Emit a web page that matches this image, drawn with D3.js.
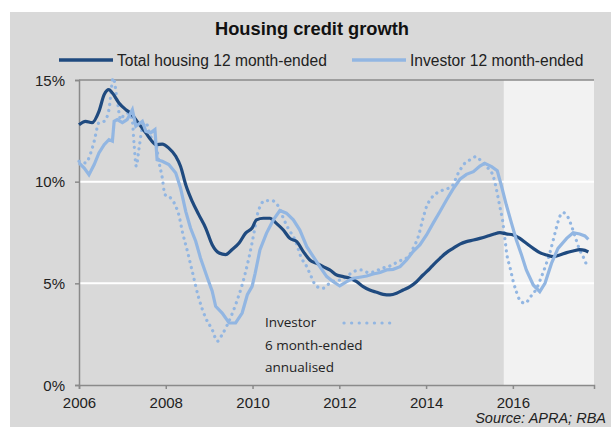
<!DOCTYPE html>
<html>
<head>
<meta charset="utf-8">
<script src="https://cdn.jsdelivr.net/npm/d3@7"></script>
<style>
  body { margin: 0; background: #fff; }
  svg { display: block; }
</style>
</head>
<body>
<div id="chart"></div>
<script>
// ticks
const yTicks = [0, 5, 10, 15];
const xTicks = [2006, 2008, 2010, 2012, 2014, 2016];

// Total housing 12 month-ended [year, %]
const totalHousing = [
  [2006.0, 12.8], [2006.15, 12.97], [2006.3, 12.9], [2006.46, 13.46], [2006.58, 14.28],
  [2006.69, 14.53], [2006.77, 14.36], [2006.92, 13.87], [2007.08, 13.54], [2007.19, 13.37],
  [2007.31, 13.05], [2007.42, 12.73], [2007.54, 12.4], [2007.65, 12.07], [2007.77, 11.82],
  [2007.92, 11.85], [2008.07, 11.65], [2008.23, 11.25], [2008.34, 10.76], [2008.46, 9.85],
  [2008.61, 9.03], [2008.76, 8.38], [2008.92, 7.72], [2009.07, 6.9], [2009.23, 6.49],
  [2009.38, 6.41], [2009.53, 6.66], [2009.69, 6.98], [2009.84, 7.47], [2009.99, 7.72],
  [2010.09, 8.12], [2010.25, 8.2], [2010.4, 8.2], [2010.55, 7.95], [2010.71, 7.62],
  [2010.86, 7.21], [2011.02, 7.05], [2011.17, 6.56], [2011.32, 6.15], [2011.48, 5.98],
  [2011.63, 5.82], [2011.78, 5.66], [2011.94, 5.41], [2012.09, 5.33], [2012.24, 5.25],
  [2012.4, 5.08], [2012.55, 4.84], [2012.7, 4.67], [2012.86, 4.56], [2013.01, 4.46],
  [2013.17, 4.43], [2013.32, 4.51], [2013.47, 4.67], [2013.63, 4.84], [2013.78, 5.08],
  [2013.93, 5.41], [2014.09, 5.74], [2014.16, 5.9], [2014.32, 6.23], [2014.47, 6.51],
  [2014.62, 6.72], [2014.78, 6.93], [2014.93, 7.05], [2015.09, 7.13], [2015.24, 7.21],
  [2015.39, 7.3], [2015.55, 7.41], [2015.7, 7.49], [2015.85, 7.43], [2016.01, 7.38],
  [2016.16, 7.21], [2016.31, 6.97], [2016.47, 6.72], [2016.62, 6.51], [2016.78, 6.39],
  [2016.93, 6.31], [2017.08, 6.39], [2017.24, 6.51], [2017.39, 6.59], [2017.54, 6.66],
  [2017.66, 6.62], [2017.74, 6.54]
];

// Investor 12 month-ended
const investor12 = [
  [2006.0, 10.92], [2006.12, 10.67], [2006.23, 10.34], [2006.35, 10.84], [2006.46, 11.41],
  [2006.58, 11.82], [2006.69, 12.07], [2006.77, 11.99], [2006.81, 12.97], [2006.88, 13.05],
  [2007.0, 12.9], [2007.11, 13.05], [2007.23, 13.54], [2007.31, 12.73], [2007.46, 12.97],
  [2007.54, 12.48], [2007.65, 12.4], [2007.75, 12.56], [2007.8, 11.08], [2007.92, 11.0],
  [2008.07, 10.84], [2008.23, 10.43], [2008.34, 9.69], [2008.46, 8.54], [2008.57, 7.72],
  [2008.69, 7.07], [2008.8, 6.25], [2008.96, 5.26], [2009.07, 4.61], [2009.15, 3.87],
  [2009.3, 3.54], [2009.46, 3.05], [2009.61, 3.05], [2009.76, 3.54], [2009.88, 4.44],
  [2009.99, 4.85], [2010.06, 5.49], [2010.17, 6.64], [2010.32, 7.46], [2010.48, 8.12],
  [2010.63, 8.58], [2010.78, 8.45], [2010.94, 8.12], [2011.09, 7.62], [2011.25, 6.8],
  [2011.4, 6.31], [2011.55, 5.82], [2011.71, 5.33], [2011.86, 5.08], [2012.01, 4.87],
  [2012.17, 5.08], [2012.32, 5.25], [2012.47, 5.3], [2012.63, 5.36], [2012.78, 5.46],
  [2012.94, 5.53], [2013.09, 5.66], [2013.24, 5.69], [2013.4, 5.82], [2013.55, 6.15],
  [2013.7, 6.56], [2013.86, 6.9], [2014.01, 7.38], [2014.16, 7.95], [2014.32, 8.53],
  [2014.47, 9.1], [2014.62, 9.63], [2014.78, 10.12], [2014.93, 10.36], [2015.09, 10.49],
  [2015.24, 10.77], [2015.35, 10.9], [2015.51, 10.74], [2015.64, 10.54], [2015.74, 9.76],
  [2015.85, 8.85], [2015.97, 7.95], [2016.08, 7.13], [2016.2, 6.39], [2016.31, 5.66],
  [2016.47, 4.92], [2016.62, 4.59], [2016.74, 5.0], [2016.89, 5.98], [2017.04, 6.72],
  [2017.24, 7.21], [2017.39, 7.49], [2017.54, 7.43], [2017.66, 7.33], [2017.74, 7.16]
];

// Investor 6 month-ended annualised
const investor6 = [
  [2006.0, 11.0], [2006.15, 10.92], [2006.27, 11.41], [2006.35, 11.99], [2006.46, 12.9],
  [2006.58, 12.97], [2006.69, 13.54], [2006.79, 15.1], [2006.88, 14.0], [2006.96, 13.05],
  [2007.04, 13.3], [2007.15, 13.37], [2007.23, 12.97], [2007.27, 11.82], [2007.32, 10.76],
  [2007.38, 11.58], [2007.46, 12.64], [2007.54, 12.9], [2007.65, 12.23], [2007.77, 11.9],
  [2007.84, 11.0], [2007.92, 10.18], [2007.98, 9.36], [2008.07, 9.28], [2008.23, 8.79],
  [2008.3, 8.38], [2008.38, 7.56], [2008.5, 6.57], [2008.61, 5.59], [2008.76, 4.28],
  [2008.92, 3.3], [2009.07, 2.72], [2009.19, 2.15], [2009.3, 2.48], [2009.42, 2.97],
  [2009.61, 3.95], [2009.76, 4.93], [2009.88, 5.92], [2009.99, 7.0], [2010.06, 7.79],
  [2010.13, 8.53], [2010.29, 9.07], [2010.44, 9.07], [2010.6, 8.77], [2010.71, 8.2],
  [2010.82, 7.71], [2010.98, 7.13], [2011.13, 6.23], [2011.25, 5.82], [2011.32, 5.49],
  [2011.48, 4.84], [2011.63, 4.76], [2011.82, 5.08], [2012.01, 5.16], [2012.17, 5.33],
  [2012.32, 5.57], [2012.51, 5.66], [2012.67, 5.53], [2012.82, 5.57], [2012.97, 5.74],
  [2013.13, 5.82], [2013.28, 5.98], [2013.44, 6.15], [2013.59, 6.31], [2013.7, 6.72],
  [2013.82, 7.3], [2013.93, 8.2], [2014.01, 8.77], [2014.09, 9.1], [2014.24, 9.43],
  [2014.39, 9.59], [2014.59, 9.76], [2014.74, 10.41], [2014.89, 10.9], [2015.01, 11.07],
  [2015.15, 11.23], [2015.28, 10.98], [2015.43, 10.66], [2015.55, 10.25], [2015.64, 9.43],
  [2015.7, 8.77], [2015.76, 8.12], [2015.81, 7.3], [2015.87, 6.31], [2015.93, 5.82],
  [2016.01, 5.08], [2016.08, 4.59], [2016.16, 4.18], [2016.28, 4.02], [2016.41, 4.35],
  [2016.55, 4.76], [2016.66, 5.33], [2016.76, 5.9], [2016.85, 6.48], [2016.93, 7.13],
  [2017.01, 7.79], [2017.08, 8.28], [2017.16, 8.48], [2017.27, 8.25], [2017.37, 7.71],
  [2017.46, 7.13], [2017.54, 6.64], [2017.62, 6.31], [2017.7, 5.9]
];

const shadeStart = 2015.79;

const svgWidth = 611,
  svgHeight = 427,
  margin = { top: 80, right: 17, bottom: 42, left: 79 },
  width = svgWidth - margin.left - margin.right,
  height = svgHeight - margin.top - margin.bottom;

const darkBlue = "#1f4a7f",
  lightBlue = "#92b6e2",
  axisGrey = "#8a8a8a";

let x = d3.scaleLinear().domain([2006, 2017.87]).range([0, width]),
  y = d3.scaleLinear().domain([0, 15]).range([height, 0]);

let line = d3
  .line()
  .x(d => x(d[0]))
  .y(d => y(d[1]));

let svg = d3
  .select("#chart")
  .append("svg")
  .attr("width", svgWidth)
  .attr("height", svgHeight)
  .style("font-family", "'Liberation Sans', Arial, sans-serif");

// grey panel
svg
  .append("rect")
  .attr("x", 10)
  .attr("y", 12)
  .attr("width", svgWidth - 10)
  .attr("height", svgHeight - 12)
  .attr("fill", "#d9d9d9");

svg
  .append("text")
  .attr("x", 312)
  .attr("y", 35)
  .attr("text-anchor", "middle")
  .attr("font-weight", "bold")
  .attr("font-size", 18.3)
  .attr("fill", "#111")
  .text("Housing credit growth");

// legend
const legendItems = [
  { label: "Total housing 12 month-ended", color: darkBlue, x: 59 },
  { label: "Investor 12 month-ended", color: lightBlue, x: 352 }
];
let legend = svg
  .selectAll(".legend")
  .data(legendItems)
  .enter()
  .append("g")
  .attr("class", "legend")
  .attr("transform", d => "translate(" + d.x + ",60)");
legend
  .append("line")
  .attr("x1", 0)
  .attr("x2", 54)
  .attr("stroke", d => d.color)
  .attr("stroke-width", 3.5);
legend
  .append("text")
  .attr("x", 58)
  .attr("y", 5.5)
  .attr("font-size", 15.6)
  .attr("fill", "#222")
  .text(d => d.label);

let g = svg
  .append("g")
  .attr("transform", "translate(" + margin.left + "," + margin.top + ")");

// recent period shading
g.append("rect")
  .attr("x", x(shadeStart))
  .attr("y", 0)
  .attr("width", width - x(shadeStart))
  .attr("height", height)
  .attr("fill", "#f2f2f2");

// gridlines
g.selectAll(".grid")
  .data([5, 10])
  .enter()
  .append("line")
  .attr("class", "grid")
  .attr("x1", 0)
  .attr("x2", width)
  .attr("y1", d => y(d))
  .attr("y2", d => y(d))
  .attr("stroke", "#fff")
  .attr("stroke-width", 2);

g.append("line")
  .attr("x1", 0)
  .attr("x2", width)
  .attr("y1", y(15))
  .attr("y2", y(15))
  .attr("stroke", axisGrey)
  .attr("stroke-width", 1.5);

// axes
let yAxis = d3
  .axisLeft(y)
  .tickValues(yTicks)
  .tickSize(4)
  .tickPadding(10)
  .tickFormat(d => d + "%");
let xAxis = d3
  .axisBottom(x)
  .tickValues(xTicks)
  .tickSize(4)
  .tickPadding(3)
  .tickFormat(d3.format("d"));

g.append("g")
  .attr("class", "x-axis")
  .attr("transform", "translate(0," + height + ")")
  .call(xAxis);
g.append("g")
  .attr("class", "y-axis")
  .call(yAxis);

g.selectAll(".x-axis .domain, .y-axis .domain").attr("stroke", axisGrey).attr("stroke-width", 1.5);
g.selectAll(".tick line").attr("stroke", axisGrey).attr("stroke-width", 1.5);
g.selectAll(".tick text").attr("font-size", 15).attr("fill", "#222").attr("font-family", "'Liberation Sans', Arial, sans-serif");
g.select(".y-axis").selectAll("text").attr("dy", "0.35em");
g.select(".x-axis").selectAll("text").attr("dy", "1.05em");

// series
g.append("path")
  .datum(investor6)
  .attr("fill", "none")
  .attr("stroke", lightBlue)
  .attr("stroke-width", 3.2)
  .attr("stroke-linecap", "round")
  .attr("stroke-dasharray", "0.1 6")
  .attr("d", line.curve(d3.curveMonotoneX));

g.append("path")
  .datum(totalHousing)
  .attr("fill", "none")
  .attr("stroke", darkBlue)
  .attr("stroke-width", 3.2)
  .attr("d", line.curve(d3.curveMonotoneX));

g.append("path")
  .datum(investor12)
  .attr("fill", "none")
  .attr("stroke", lightBlue)
  .attr("stroke-width", 3.2)
  .attr("d", line.curve(d3.curveLinear));

// annotation for dotted series
let note = svg
  .append("g")
  .style("font-family", "'Open Sans', 'Noto Sans', sans-serif")
  .attr("font-size", 13.5)
  .attr("fill", "#222");
note.append("text").attr("x", 265).attr("y", 327).text("Investor");
note.append("text").attr("x", 265).attr("y", 350).text("6 month-ended");
note.append("text").attr("x", 265).attr("y", 372).text("annualised");
note
  .append("line")
  .attr("x1", 344)
  .attr("x2", 397)
  .attr("y1", 323)
  .attr("y2", 323)
  .attr("stroke", lightBlue)
  .attr("stroke-width", 3.2)
  .attr("stroke-linecap", "round")
  .attr("stroke-dasharray", "0.1 7.5");

// source
svg
  .append("text")
  .attr("x", 606)
  .attr("y", 423)
  .attr("text-anchor", "end")
  .attr("font-style", "italic")
  .attr("font-size", 14.5)
  .attr("fill", "#222")
  .text("Source: APRA; RBA");
</script>
</body>
</html>
